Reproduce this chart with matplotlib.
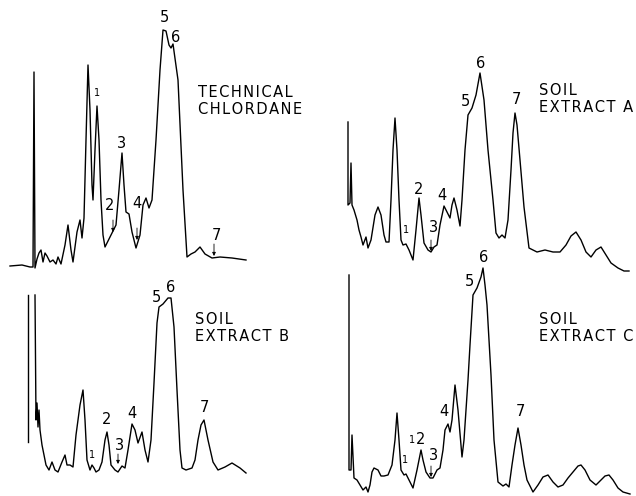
import matplotlib.pyplot as plt

# retention (chart units) and detector response for each chromatogram
tech_t = [10, 22, 30, 33, 34, 35, 37, 39, 41, 43, 45, 47, 50, 53, 56, 58, 61, 65, 68, 71,
          73, 77, 80, 82, 84, 86, 88, 90, 92, 93, 95, 97, 99, 101, 103, 105, 110, 113, 116, 119,
          122, 124, 126, 129, 132, 136, 140, 143, 146, 149, 152, 156, 160, 163, 166, 169, 171, 173, 178, 183,
          187, 191, 195, 200, 205, 212, 220, 232, 246]
tech_y = [24, 25, 23, 23, 218, 22, 31, 37, 40, 28, 37, 34, 28, 30, 26, 33, 26, 45, 65, 40,
          28, 58, 70, 52, 72, 150, 225, 180, 105, 90, 140, 184, 150, 90, 55, 43, 53, 59, 65, 100,
          137, 105, 78, 76, 58, 42, 55, 85, 92, 82, 90, 150, 220, 260, 259, 245, 242, 246, 210, 100,
          33, 36, 38, 43, 36, 32, 33, 32, 30]

soil_a_t = [34, 34, 36, 37, 38, 40, 43, 45, 47, 49, 52, 54, 57, 61, 64, 67, 70, 72, 75, 77,
            79, 81, 83, 85, 87, 89, 92, 95, 99, 102, 105, 107, 110, 114, 117, 120, 123, 126, 130, 133,
            136, 138, 140, 143, 146, 148, 151, 154, 158, 162, 166, 170, 174, 179, 182, 185, 188, 191, 194, 197,
            199, 201, 203, 206, 210, 215, 223, 231, 239, 246, 252, 257, 262, 267, 272, 277, 282, 287, 292, 297,
            304, 310, 315]
soil_a_y = [168, 85, 87, 127, 85, 80, 70, 60, 53, 45, 53, 42, 50, 75, 83, 75, 55, 48, 48, 90,
            140, 172, 140, 90, 50, 45, 46, 40, 30, 60, 92, 75, 47, 40, 38, 43, 45, 65, 84, 78,
            72, 85, 92, 80, 64, 90, 140, 175, 182, 195, 217, 190, 140, 90, 57, 52, 55, 52, 70, 120,
            157, 177, 165, 130, 83, 42, 38, 40, 38, 38, 45, 54, 58, 50, 38, 33, 40, 43, 35, 27,
            22, 19, 19]

soil_b_inj = [54, 201]
soil_b_t = [35, 36, 37, 38, 39, 40, 42, 44, 46, 49, 52, 55, 58, 62, 65, 67, 70, 73, 76, 80,
            83, 85, 87, 90, 92, 94, 96, 99, 102, 105, 107, 109, 111, 115, 118, 122, 125, 128, 132, 135,
            138, 142, 145, 148, 151, 154, 157, 159, 163, 168, 171, 174, 177, 180, 182, 186, 192, 195, 198, 201,
            204, 208, 213, 218, 225, 232, 240, 246]
soil_b_y = [201, 76, 93, 69, 86, 66, 51, 41, 31, 26, 34, 26, 24, 34, 41, 31, 31, 29, 61, 91,
            106, 76, 36, 26, 31, 28, 24, 26, 34, 56, 64, 51, 31, 26, 24, 30, 28, 46, 72, 66,
            53, 64, 46, 34, 56, 113, 173, 189, 192, 198, 198, 169, 106, 46, 28, 26, 28, 36, 56, 71,
            76, 56, 34, 26, 29, 33, 28, 23]

soil_c_t = [35, 35, 37, 38, 40, 43, 46, 49, 52, 54, 56, 58, 60, 64, 67, 70, 74, 78, 81, 83,
            85, 87, 90, 92, 95, 99, 103, 107, 109, 112, 116, 119, 123, 126, 129, 131, 134, 136, 138, 141,
            144, 148, 150, 152, 154, 156, 159, 163, 167, 169, 171, 173, 177, 180, 184, 189, 192, 195, 198, 201,
            204, 207, 210, 213, 219, 224, 229, 234, 239, 244, 249, 254, 259, 264, 267, 271, 276, 282, 286, 291,
            295, 299, 304, 309, 316]
soil_c_y = [221, 26, 26, 61, 18, 16, 11, 6, 9, 4, 11, 24, 28, 26, 20, 20, 21, 31, 56, 83,
            56, 26, 21, 22, 16, 8, 26, 46, 36, 24, 18, 18, 26, 28, 46, 66, 72, 64, 76, 111,
            86, 39, 56, 86, 116, 151, 201, 208, 219, 228, 211, 191, 121, 56, 14, 10, 12, 9, 31, 51,
            68, 51, 31, 16, 4, 11, 19, 21, 14, 9, 11, 18, 24, 30, 31, 26, 16, 11, 15, 20,
            21, 16, 8, 4, 2]

# peak numbers: (label, t, y)
tech_peaks = [("1", 97, 197), ("2", 110, 85), ("3", 122, 147), ("4", 137, 86),
              ("5", 164, 273), ("6", 176, 253), ("7", 216, 55)]
soil_a_peaks = [("1", 92, 60), ("2", 105, 101), ("3", 119, 62), ("4", 128, 94),
                ("5", 151, 188), ("6", 167, 227), ("7", 202, 190)]
soil_b_peaks = [("1", 92, 41), ("2", 107, 76), ("3", 119, 51), ("4", 132, 83),
                ("5", 156, 199), ("6", 171, 209), ("7", 204, 88)]
soil_c_peaks = [("1", 91, 36), ("1", 98, 56), ("2", 107, 56), ("3", 120, 40), ("4", 130, 84),
                ("5", 155, 214), ("6", 170, 239), ("7", 206, 84)]

# small arrows under some labels: (t, y_from, y_to)
tech_arrows = [(113, 70, 58), (137, 62, 50), (214, 46, 34)]
soil_a_arrows = [(117, 50, 39)]
soil_b_arrows = [(118, 42, 32)]
soil_c_arrows = [(117, 30, 19)]

titles = [["TECHNICAL", "CHLORDANE"], ["SOIL", "EXTRACT A"],
          ["SOIL", "EXTRACT B"], ["SOIL", "EXTRACT C"]]
title_pos = [(198, 189), (225, 191), (195, 168), (225, 168)]

W, H = 636, 496


def spaced(word):
    # lettering on the original is spread out
    return "\u200a".join(word)


def panel(px_left, px_top, px_w, px_h):
    ax = fig.add_axes([px_left / W, (H - px_top - px_h) / H, px_w / W, px_h / H])
    ax.set_xlim(0, px_w)
    ax.set_ylim(0, px_h)
    ax.axis("off")
    ax.patch.set_alpha(0)
    return ax


def draw(ax, t, y, peaks, arrows, title, tpos):
    ax.plot(t, y, color="black", lw=1.0, clip_on=False, solid_joinstyle="round")
    for lab, x, yy in peaks:
        small = lab == "1"
        ax.text(x, yy, lab, ha="center", va="center",
                fontsize=7 if small else 10.5, family="DejaVu Sans")
    for x, y0, y1 in arrows:
        ax.annotate("", xy=(x, y1), xytext=(x, y0),
                    arrowprops=dict(arrowstyle="-|>", lw=0.6, color="black",
                                    mutation_scale=5, shrinkA=0, shrinkB=0))
    text = "\n".join(spaced(w) for w in title)
    ax.text(tpos[0], tpos[1], text, ha="left", va="center", fontsize=10.5,
            family="DejaVu Sans", linespacing=1.1)


fig = plt.figure(figsize=(6.36, 4.96), dpi=100)

ax_tl = panel(0, 0, 318, 290)
ax_tr = panel(314, 0, 322, 290)
ax_bl = panel(0, 270, 318, 226)
ax_br = panel(314, 240, 322, 256)

draw(ax_tl, tech_t, tech_y, tech_peaks, tech_arrows, titles[0], title_pos[0])
draw(ax_tr, soil_a_t, soil_a_y, soil_a_peaks, soil_a_arrows, titles[1], title_pos[1])
draw(ax_bl, soil_b_t, soil_b_y, soil_b_peaks, soil_b_arrows, titles[2], title_pos[2])
draw(ax_br, soil_c_t, soil_c_y, soil_c_peaks, soil_c_arrows, titles[3], title_pos[3])

# injection mark in extract B
ax_bl.plot([28, 28], soil_b_inj, color="black", lw=1.0)

fig.savefig("out.png", dpi=100)
